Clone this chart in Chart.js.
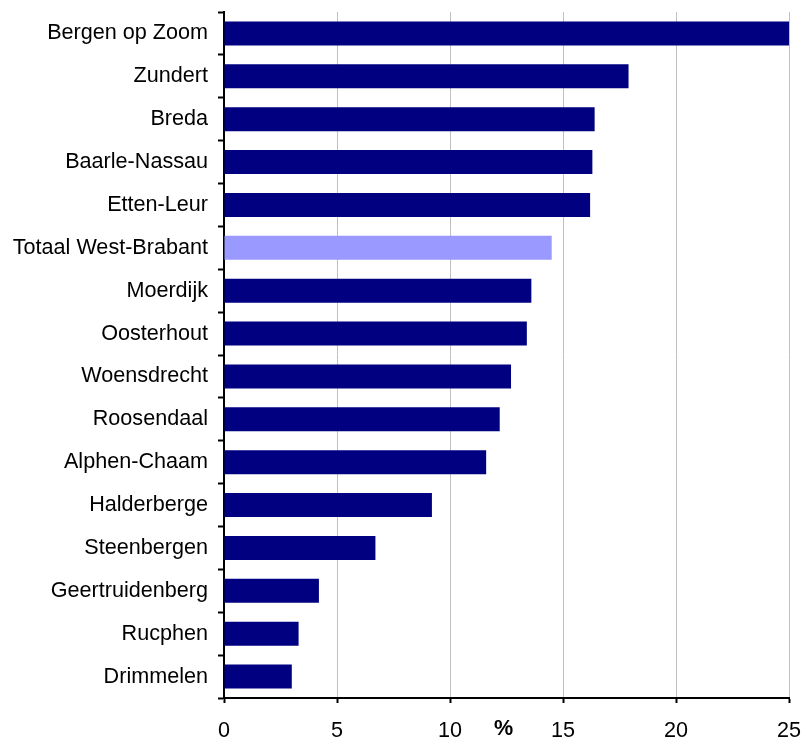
<!DOCTYPE html>
<html>
<head>
<meta charset="utf-8">
<script src="https://cdn.jsdelivr.net/npm/chart.js@4.4.1/dist/chart.umd.min.js"></script>
<style>
  html, body { margin: 0; padding: 0; background: #fff; }
  canvas { display: block; }
</style>
</head>
<body>
<canvas id="myChart" width="801" height="740"></canvas>
<script>
// Gemeenten, gesorteerd van hoog naar laag
const gemeenten = [
  'Bergen op Zoom', 'Zundert', 'Breda', 'Baarle-Nassau', 'Etten-Leur',
  'Totaal West-Brabant', 'Moerdijk', 'Oosterhout', 'Woensdrecht', 'Roosendaal',
  'Alphen-Chaam', 'Halderberge', 'Steenbergen', 'Geertruidenberg', 'Rucphen', 'Drimmelen'
];
const percentages = [25.1, 17.9, 16.4, 16.3, 16.2, 14.5, 13.6, 13.4, 12.7, 12.2, 11.6, 9.2, 6.7, 4.2, 3.3, 3.0];
const xTicks = [0, 5, 10, 15, 20, 25];
const totaalNaam = 'Totaal West-Brabant';

const FONT = 'Arial, "Liberation Sans", sans-serif';
const FONT_SIZE = 21.6;

// "%" staat in de rij van de x-labels, midden onder het plotgebied
const percentLabel = {
  id: 'percentLabel',
  afterDraw(chart) {
    const { ctx, chartArea } = chart;
    ctx.save();
    ctx.font = 'bold ' + FONT_SIZE + 'px ' + FONT;
    ctx.fillStyle = '#000';
    ctx.textAlign = 'center';
    ctx.textBaseline = 'middle';
    ctx.fillText('%', (chartArea.left + chartArea.right) / 2 - 3, 729);
    ctx.restore();
  }
};

const ctx = document.getElementById('myChart').getContext('2d');
const myChart = new Chart(ctx, {
  type: 'bar',
  data: {
    labels: gemeenten,
    datasets: [{
      data: percentages,
      backgroundColor: gemeenten.map(g => g === totaalNaam ? '#9999FF' : '#000080'),
      borderWidth: 0,
      barPercentage: 0.56,
      categoryPercentage: 1
    }]
  },
  options: {
    indexAxis: 'y',
    responsive: false,
    animation: false,
    layout: { padding: { top: 12, right: 12, left: 0, bottom: 0 } },
    plugins: {
      legend: { display: false },
      tooltip: { enabled: false }
    },
    scales: {
      x: {
        min: 0,
        max: 25,
        afterBuildTicks: axis => { axis.ticks = xTicks.map(v => ({ value: v })); },
        afterFit: axis => {
          axis.height = 42;
          axis.paddingLeft = 0;
          axis.paddingRight = 0;
        },
        grid: {
          color: '#c0c0c0',
          lineWidth: 1,
          tickColor: '#000',
          tickWidth: 2,
          tickLength: 5
        },
        border: { color: '#000', width: 2 },
        ticks: {
          color: '#000',
          padding: 15,
          font: { family: FONT, size: FONT_SIZE }
        }
      },
      y: {
        afterFit: axis => {
          axis.width = 224;
          axis.paddingTop = 0;
          axis.paddingBottom = 0;
        },
        grid: {
          drawOnChartArea: false,
          offset: true,
          tickColor: '#000',
          tickWidth: 2,
          tickLength: 6
        },
        border: { color: '#000', width: 2 },
        ticks: {
          color: '#000',
          padding: 10,
          font: { family: FONT, size: FONT_SIZE }
        }
      }
    }
  },
  plugins: [percentLabel]
});
</script>
</body>
</html>
